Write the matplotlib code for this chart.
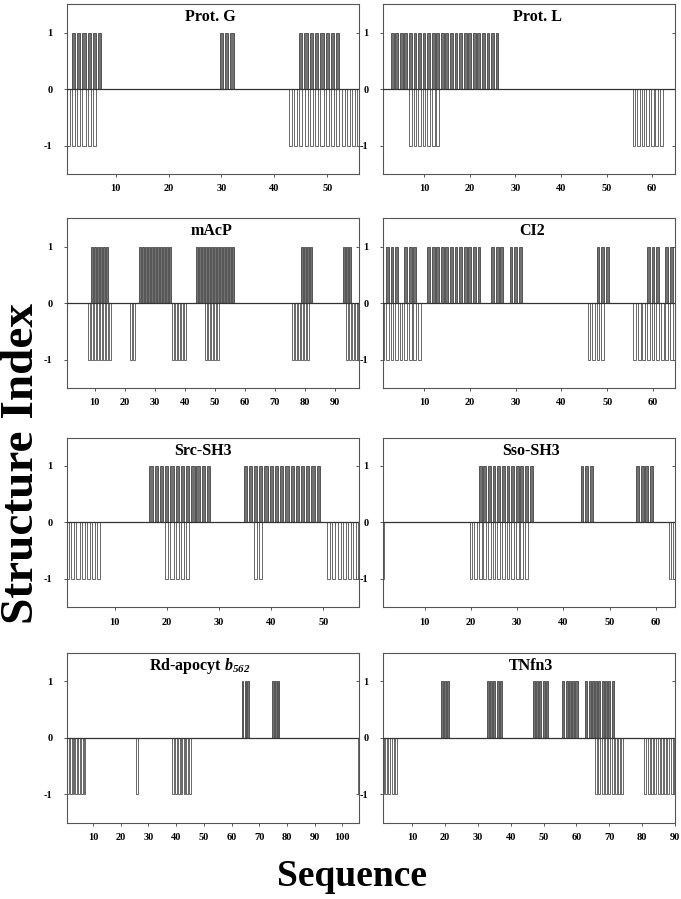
import matplotlib
matplotlib.use("Agg")
import matplotlib.pyplot as plt

plt.rcParams['font.family'] = ['Liberation Serif', 'DejaVu Serif']
plt.rcParams['font.weight'] = 'bold'
plt.rcParams['mathtext.fontset'] = 'custom'
plt.rcParams['mathtext.rm'] = 'Liberation Serif:bold'
plt.rcParams['mathtext.bf'] = 'Liberation Serif:bold'
plt.rcParams['mathtext.it'] = 'Liberation Serif:italic:bold'
plt.rcParams['mathtext.bfit'] = 'Liberation Serif:italic:bold'

# residues with structure index +1 / -1
protg_pos = [2, 3, 4, 5, 6, 7, 30, 31, 32, 45, 46, 47, 48, 49, 50, 51, 52]
protg_neg = [1, 2, 3, 4, 5, 6, 43, 44, 45, 46, 47, 48, 49, 50, 51, 52, 53, 54, 55, 56]

protl_pos = [3, 4, 5, 6, 7, 8, 9, 10, 11, 12, 13, 14, 15, 16, 17, 18, 19, 20,
             21, 22, 23, 24, 25, 26]
protl_neg = [7, 8, 9, 10, 11, 12, 13, 56, 57, 58, 59, 60, 61, 62]

macp_pos = [9, 10, 11, 12, 13, 14, 25, 26, 27, 28, 29, 30, 31, 32, 33, 34, 35,
            44, 45, 46, 47, 48, 49, 50, 51, 52, 53, 54, 55, 56, 79, 80, 81, 82,
            93, 94, 95]
macp_neg = [8, 9, 10, 11, 12, 13, 14, 15, 22, 23, 36, 37, 38, 39, 40,
            47, 48, 49, 50, 51, 76, 77, 78, 79, 80, 81, 94, 95, 96, 97, 98]

ci2_pos = [2, 3, 4, 6, 7, 8, 11, 12, 13, 14, 15, 16, 17, 18, 19, 20, 21, 22,
           25, 26, 27, 29, 30, 31, 48, 49, 50, 59, 60, 61, 63, 64]
ci2_neg = [1, 2, 3, 4, 5, 6, 7, 8, 9, 46, 47, 48, 49,
           56, 57, 58, 59, 60, 61, 62, 63, 64]

src_pos = [17, 18, 19, 20, 21, 22, 23, 24, 25, 26, 27, 28,
           35, 36, 37, 38, 39, 40, 41, 42, 43, 44, 45, 46, 47, 48, 49]
src_neg = [1, 2, 3, 4, 5, 6, 7, 20, 21, 22, 23, 24, 37, 38,
           51, 52, 53, 54, 55, 56, 57]

sso_pos = [22, 23, 24, 25, 26, 27, 28, 29, 30, 31, 32, 33, 44, 45, 46,
           56, 57, 58, 59]
sso_neg = [1, 20, 21, 22, 23, 24, 25, 26, 27, 28, 29, 30, 31, 32, 63, 64]

rd_pos = [64, 65, 66, 75, 76, 77]
rd_neg = [1, 2, 3, 4, 5, 6, 7, 26, 39, 40, 41, 42, 43, 44, 45, 106]

tnfn3_pos = [19, 20, 21, 33, 34, 35, 36, 37, 47, 48, 49, 50, 51,
             56, 57, 58, 59, 60, 63, 64, 65, 66, 67, 68, 69, 70, 71]
tnfn3_neg = [1, 2, 3, 4, 5, 66, 67, 68, 69, 70, 71, 72, 73, 74,
             81, 82, 83, 84, 85, 86, 87, 88, 89, 90]

names = ['Prot. G', 'Prot. L', 'mAcP', 'CI2', 'Src-SH3', 'Sso-SH3',
         r'Rd-apocyt $\mathbfit{b}_{\mathbfit{562}}$', 'TNfn3']
pos_sets = [protg_pos, protl_pos, macp_pos, ci2_pos, src_pos, sso_pos, rd_pos, tnfn3_pos]
neg_sets = [protg_neg, protl_neg, macp_neg, ci2_neg, src_neg, sso_neg, rd_neg, tnfn3_neg]
xlims = [(0.8, 56.0), (1.0, 65.0), (0.75, 98.0), (1.05, 64.8),
         (0.9, 56.8), (1.0, 64.1), (0.65, 106.0), (1.07, 90.0)]
xtick_max = [50, 60, 90, 60, 50, 60, 100, 90]
title_x = [0.49, 0.53, 0.495, 0.51, 0.467, 0.508, 0.455, 0.508]

fig = plt.figure(figsize=(6.81, 8.99), dpi=100)

W, H = 681, 899
col_left = [67, 383]
row_top = [4.3, 218.3, 437.7, 653]
ax_w, ax_h = 292, 169.5

spine_c = '#555555'

for i in range(8):
    r, c = divmod(i, 2)
    left = col_left[c] / W
    bottom = 1 - (row_top[r] + ax_h) / H
    ax = fig.add_axes([left, bottom, ax_w / W, ax_h / H])

    # upper bars look shaded, lower ones are open
    ax.bar(pos_sets[i], [1] * len(pos_sets[i]), width=0.62, bottom=0,
           facecolor='#727272', edgecolor='#3a3a3a', linewidth=0.55, zorder=2)
    ax.bar(neg_sets[i], [-1] * len(neg_sets[i]), width=0.6, bottom=0,
           facecolor='white', edgecolor='#505050', linewidth=0.6, zorder=1)
    ax.axhline(0, color='#333333', lw=0.9, zorder=3)

    ax.set_xlim(*xlims[i])
    ax.set_ylim(-1.5, 1.5)
    ax.set_xticks(range(10, xtick_max[i] + 1, 10))
    ax.set_yticks([-1, 0, 1])
    ax.set_yticklabels(['-1', '0', '1'])
    ax.tick_params(axis='both', direction='out', length=2.5, width=0.7,
                   color=spine_c, labelsize=7.5)
    ax.tick_params(axis='y', pad=8)
    ax.tick_params(axis='x', pad=5)
    for lab in ax.get_xticklabels() + ax.get_yticklabels():
        lab.set_fontweight('bold')
    for sp in ax.spines.values():
        sp.set_color(spine_c)
        sp.set_linewidth(0.8)

    sec = ax.secondary_yaxis('right')
    sec.set_yticks([-1, 0, 1])
    sec.tick_params(direction='in', length=2.5, width=0.7, color=spine_c,
                    labelright=False)
    sec.spines['right'].set_visible(False)

    ax.text(title_x[i], 0.924, names[i], transform=ax.transAxes,
            ha='center', va='center', fontsize=11.5, fontweight='bold')

fig.text(22 / W, 1 - 464 / H, 'Structure Index', rotation=90,
         ha='center', va='center', fontsize=34, fontweight='bold')
fig.text(352 / W, 1 - 877 / H, 'Sequence', ha='center', va='center',
         fontsize=27, fontweight='bold')

fig.savefig('out.png', dpi=100)
